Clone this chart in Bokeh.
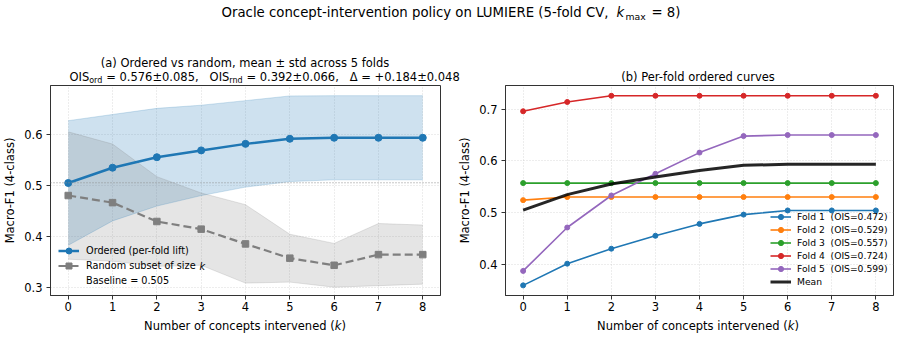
import numpy as np
from bokeh.plotting import figure
from bokeh.layouts import column, row
from bokeh.models import (Range1d, FixedTicker, Legend, LegendItem, Span, Label,
                          PrintfTickFormatter)
from bokeh.core.properties import value
from bokeh.embed import file_html
from bokeh.resources import INLINE

# ---- data -------------------------------------------------------------
k_values = [0, 1, 2, 3, 4, 5, 6, 7, 8]

fold_1 = [0.359, 0.401, 0.430, 0.455, 0.478, 0.496, 0.504, 0.504, 0.504]
fold_2 = [0.524, 0.530, 0.530, 0.530, 0.530, 0.530, 0.530, 0.530, 0.530]
fold_3 = [0.557, 0.557, 0.557, 0.557, 0.557, 0.557, 0.557, 0.557, 0.557]
fold_4 = [0.696, 0.714, 0.726, 0.726, 0.726, 0.726, 0.726, 0.726, 0.726]
fold_5 = [0.387, 0.471, 0.533, 0.575, 0.616, 0.648, 0.650, 0.650, 0.650]
fold_ois = [0.472, 0.529, 0.557, 0.724, 0.599]

random_mean = [0.480, 0.466, 0.429, 0.414, 0.385, 0.357, 0.343, 0.364, 0.364]
random_std = [0.125, 0.115, 0.088, 0.071, 0.077, 0.047, 0.043, 0.061, 0.058]

baseline_f1 = 0.505
ois_rnd = (0.392, 0.066)
ois_delta = (0.184, 0.048)

x_ticks = [0, 1, 2, 3, 4, 5, 6, 7, 8]
left_y_ticks = [0.3, 0.4, 0.5, 0.6]
right_y_ticks = [0.4, 0.5, 0.6, 0.7]
fold_colors = ["#1f77b4", "#ff7f0e", "#2ca02c", "#d62728", "#9467bd"]

FONT = "DejaVu Sans"
EDGE = "#333333"

folds = np.array([fold_1, fold_2, fold_3, fold_4, fold_5])
ordered_mean = folds.mean(axis=0)
ordered_std = folds.std(axis=0)
rand_mean = np.array(random_mean)
rand_std = np.array(random_std)
ois_ord = (float(np.mean(fold_ois)), float(np.std(fold_ois)))


def text_piece(fig, x, baseline, txt, size, style="normal", align="left"):
    # anchor on the middle of the em box, which sits ~0.346 em above the baseline
    fig.text(x=[x], y=[baseline - 0.346 * size], text=[txt], text_font=value(FONT),
             text_font_size=value(f"{size}px"), text_font_style=style,
             text_align=align, text_baseline="middle", text_color="black")


def blank_strip(height, y_top, y_bottom):
    f = figure(width=900, height=height, x_range=Range1d(0, 900),
               y_range=Range1d(y_bottom, y_top), output_backend="svg",
               toolbar_location=None, x_axis_type=None, y_axis_type=None,
               title=None, min_border=0, outline_line_color=None)
    f.grid.visible = False
    return f


def panel(width, border_left, border_right, y_lo, y_hi, y_ticks):
    p = figure(width=width, height=231, x_range=Range1d(-0.4, 8.4),
               y_range=Range1d(y_lo, y_hi), output_backend="svg",
               toolbar_location=None, title=None, min_border_left=border_left,
               min_border_right=border_right, min_border_top=1,
               min_border_bottom=20)
    p.outline_line_color = EDGE
    p.outline_line_width = 1
    p.xaxis.ticker = FixedTicker(ticks=x_ticks)
    p.yaxis.ticker = FixedTicker(ticks=y_ticks)
    p.yaxis.formatter = PrintfTickFormatter(format="%.1f")
    for ax in (p.xaxis[0], p.yaxis[0]):
        ax.axis_line_color = EDGE
        ax.major_tick_line_color = EDGE
        ax.minor_tick_line_color = None
        ax.major_tick_in = 0
        ax.major_tick_out = 4
        ax.major_label_text_font = FONT
        ax.major_label_text_font_size = "11.5px"
        ax.major_label_text_color = "black"
    p.xaxis.major_label_standoff = 2
    p.yaxis.major_label_standoff = 4
    p.yaxis.axis_label = "Macro-F1 (4-class)"
    p.yaxis.axis_label_text_font = FONT
    p.yaxis.axis_label_text_font_size = "11.5px"
    p.yaxis.axis_label_text_font_style = "normal"
    p.yaxis.axis_label_text_color = "black"
    p.yaxis.axis_label_standoff = 4
    p.grid.grid_line_color = "#b0b0b0"
    p.grid.grid_line_alpha = 0.6
    p.grid.grid_line_dash = "1 2"
    p.grid.grid_line_width = 0.8
    return p


# ---- header: suptitle and panel titles -------------------------------
header = blank_strip(84, 0, 84)
text_piece(header, 221, 17, "Oracle concept-intervention policy on LUMIERE (5-fold CV,", 13.3)
text_piece(header, 616, 17, "k", 13.3, style="italic")
text_piece(header, 625, 19.5, "max", 9.3)
text_piece(header, 651, 17, "= 8)", 13.3)

text_piece(header, 244.5, 66.7, "(a) Ordered vs random, mean \u00b1 std across 5 folds", 11.5, align="center")
text_piece(header, 69, 80.7, "OIS", 11.5)
text_piece(header, 88.7, 83.0, "ord", 8)
text_piece(header, 105.7, 80.7, f"= {ois_ord[0]:.3f}\u00b1{ois_ord[1]:.3f},", 11.5)
text_piece(header, 209.1, 80.7, "OIS", 11.5)
text_piece(header, 228.8, 83.0, "rnd", 8)
text_piece(header, 245.9, 80.7, f"= {ois_rnd[0]:.3f}\u00b1{ois_rnd[1]:.3f},", 11.5)
text_piece(header, 349.3, 80.7, f"\u0394 = +{ois_delta[0]:.3f}\u00b1{ois_delta[1]:.3f}", 11.5)

text_piece(header, 697.5, 80, "(b) Per-fold ordered curves", 11.5, align="center")

# ---- (a) ordered vs random -------------------------------------------
left = panel(455, 49, 15, 0.2837, 0.696, left_y_ticks)

left.varea(x=k_values, y1=ordered_mean - ordered_std, y2=ordered_mean + ordered_std,
           fill_color="#1f77b4", fill_alpha=0.22)
left.varea(x=k_values, y1=rand_mean - rand_std, y2=rand_mean + rand_std,
           fill_color="#7f7f7f", fill_alpha=0.2)
for edge_vals, col in (((ordered_mean - ordered_std), "#1f77b4"), ((ordered_mean + ordered_std), "#1f77b4"),
                       ((rand_mean - rand_std), "#7f7f7f"), ((rand_mean + rand_std), "#7f7f7f")):
    left.line(k_values, edge_vals, line_color=col, line_alpha=0.2, line_width=1)

left.add_layout(Span(location=baseline_f1, dimension="width", line_color="#8c8c8c",
                     line_dash="1 2", line_width=1))

ord_line = left.line(k_values, ordered_mean, line_color="#1f77b4", line_width=2.5)
ord_pts = left.scatter(k_values, ordered_mean, marker="circle", size=7,
                       fill_color="#1f77b4", line_color="#1f77b4")
rnd_line = left.line(k_values, random_mean, line_color="#7f7f7f", line_width=2.2,
                     line_dash="8 4")
rnd_pts = left.scatter(k_values, random_mean, marker="square", size=6.5,
                       fill_color="#7f7f7f", line_color="#7f7f7f")
base_key = left.line(x=[], y=[], line_color="#8c8c8c", line_dash="1 2", line_width=1)

left_legend = Legend(items=[
    LegendItem(label=value("Ordered (per-fold lift)"), renderers=[ord_line, ord_pts]),
    LegendItem(label=value("Random subset of size"), renderers=[rnd_line, rnd_pts]),
    LegendItem(label=value(f"Baseline = {baseline_f1:.3f}"), renderers=[base_key]),
], location=(8, 7), background_fill_alpha=0, border_line_alpha=0, padding=0,
    margin=0, spacing=0, glyph_width=21, glyph_height=15, label_height=15,
    label_standoff=7, label_text_font=FONT, label_text_font_size="9.7px",
    label_text_color="black")
left.add_layout(left_legend)
left.add_layout(Label(x=149, y=29.5, x_units="screen", y_units="screen", text="k",
                      text_font=FONT, text_font_style="italic", text_font_size="9.7px",
                      text_baseline="middle", text_color="black"))

# ---- (b) per-fold ordered curves -------------------------------------
right = panel(445, 47, 7, 0.3394, 0.7459, right_y_ticks)
right_items = []
for i, (vals, color, ois) in enumerate(zip(folds, fold_colors, fold_ois)):
    ln = right.line(k_values, vals, line_color=color, line_width=1.6)
    pts = right.scatter(k_values, vals, marker="circle", size=5, fill_color=color,
                        line_color=color)
    right_items.append(LegendItem(label=value(f"Fold {i + 1}\u00a0\u00a0(OIS={ois:.3f})"),
                                  renderers=[ln, pts]))
mean_ln = right.line(k_values, ordered_mean, line_color="black", line_width=3,
                     line_alpha=0.85)
right_items.append(LegendItem(label=value("Mean"), renderers=[mean_ln]))
right.add_layout(Legend(items=right_items, location=(265, 7), background_fill_alpha=0,
                        border_line_alpha=0, padding=0, margin=0, spacing=0,
                        glyph_width=21, glyph_height=13, label_height=13,
                        label_standoff=6, label_text_font=FONT,
                        label_text_font_size="9.2px", label_text_color="black"))

# ---- footer: x-axis titles -------------------------------------------
footer = blank_strip(24, 315, 339)
for start in (143.6, 596.6):
    text_piece(footer, start, 329.7, "Number of concepts intervened (", 11.5)
    text_piece(footer, start + 190.6, 329.7, "k", 11.5, style="italic")
    text_piece(footer, start + 197.3, 329.7, ")", 11.5)

layout = column(header, row(left, right), footer)
open("out.html", "w").write(file_html(layout, INLINE))
